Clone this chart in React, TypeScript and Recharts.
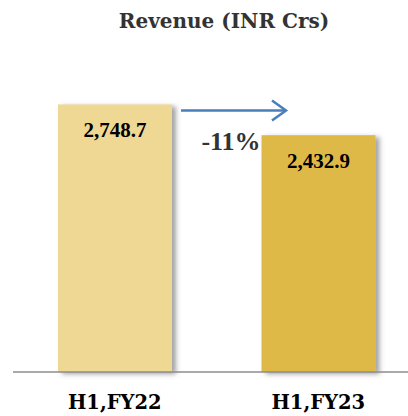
import React from "react";
import { BarChart, Bar, XAxis, YAxis, LabelList, Cell } from "recharts";

const categories = ["H1,FY22", "H1,FY23"];
const revenue = [2748.7, 2432.9];
const barColors = ["#EFD893", "#DFB947"];
const changeLabel = "-11%";
const title = "Revenue (INR Crs)";

const data = categories.map((name, i) => ({ name, value: revenue[i] }));

const SERIF = "'DejaVu Serif', serif";
const TIMES = "'Liberation Serif', serif";

const ShadowBar = (props: any) => {
  const { x, y, width, height, fill, index } = props;
  const id = `sh${index}`;
  return (
    <g>
      <defs>
        <filter id={id} x="-20%" y="-20%" width="150%" height="150%">
          <feDropShadow dx="4" dy="2" stdDeviation="2.5" floodColor="#555" floodOpacity="0.55" />
        </filter>
      </defs>
      <rect x={x} y={y} width={width} height={height} fill={fill} filter={`url(#${id})`} />
    </g>
  );
};

const ValueLabel = (props: any) => {
  const { x, y, width, value } = props;
  const txt = Number(value).toLocaleString("en-US", { minimumFractionDigits: 1, maximumFractionDigits: 1 });
  return (
    <text x={x + width / 2} y={y + 33} textAnchor="middle" fontFamily={TIMES} fontWeight="bold" fontSize={21} fill="#000">
      {txt}
    </text>
  );
};

const ArrowLabel = (props: any) => {
  const { x, y, width, index, value } = props;
  if (!(index === 0 || value === revenue[0])) return null;
  const x0 = x + width + 9;
  const x1 = x + width + 114;
  const ay = y + 6;
  return (
    <g>
      <line x1={x0} y1={ay} x2={x1} y2={ay} stroke="#4A7EBB" strokeWidth={2.5} />
      <polyline points={`${x1 - 14},${ay - 10} ${x1},${ay} ${x1 - 14},${ay + 10}`} fill="none" stroke="#4A7EBB" strokeWidth={2.5} />
      <text x={x + width + 59} y={y + 46} textAnchor="middle" fontFamily={TIMES} fontWeight="bold" fontSize={26} fill="#333">
        {changeLabel}
      </text>
    </g>
  );
};

const Tick = (props: any) => {
  const { x, y, payload } = props;
  return (
    <text x={x} y={y} dy={29} textAnchor="middle" fontFamily={SERIF} fontWeight="bold" fontSize={19.5} fill="#000">
      {payload.value}
    </text>
  );
};

export default function App() {
  return (
    <div style={{ position: "absolute", left: 0, top: 0, width: 408, height: 416, overflow: "hidden", background: "#fff" }}>
      <div
        style={{
          position: "absolute",
          left: 0,
          top: 11,
          width: 448,
          textAlign: "center",
          fontFamily: SERIF,
          fontWeight: "bold",
          fontSize: 20,
          lineHeight: "20px",
          color: "#333",
          whiteSpace: "nowrap",
        }}
      >
        {title}
      </div>
      <BarChart width={430} height={416} data={data} margin={{ top: 80, right: 10, bottom: 14, left: 13 }}>
        <XAxis dataKey="name" axisLine={{ stroke: "#8C8C8C", strokeWidth: 1.5 }} tickLine={false} height={30} tick={<Tick />} interval={0} />
        <YAxis hide domain={[0, 3000]} />
        <Bar dataKey="value" barSize={114} isAnimationActive={false} shape={<ShadowBar />}>
          {data.map((d, i) => (
            <Cell key={d.name} fill={barColors[i]} />
          ))}
          <LabelList dataKey="value" content={<ValueLabel />} />
          <LabelList dataKey="value" content={<ArrowLabel />} />
        </Bar>
      </BarChart>
    </div>
  );
}
